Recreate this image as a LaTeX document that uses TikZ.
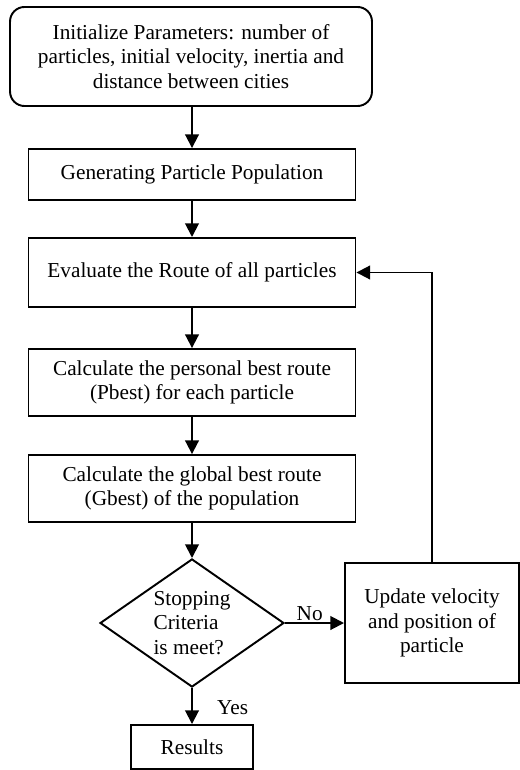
\documentclass[tikz,border=0pt]{standalone}
\usepackage{fontspec}
\setmainfont{Liberation Serif}
\usetikzlibrary{arrows.meta,shapes.geometric}

\tikzset{
  procbox/.style={draw, line width=1.2pt, align=center, inner sep=2pt,
    minimum width=202.7pt},
  decision/.style={draw, line width=1.2pt, diamond, aspect=1.44, inner sep=0pt,
    align=left, minimum width=114pt, minimum height=79.4pt},
  flowarrow/.style={-{Triangle[length=8.5pt,width=8.5pt]}, line width=1.2pt},
  flowlabel/.style={inner sep=1pt}
}

\begin{document}
\begin{tikzpicture}[
  x=0.62pt, y=-0.62pt,
  font=\fontsize{13.2}{15}\selectfont
]
\useasboundingbox (0,0) rectangle (520,770);

% ==================== Main column ====================
\node (init) [procbox, rounded corners=9pt, minimum width=224.4pt,
  minimum height=61.4pt] at (191, 56.5)
  {Initialize Parameters: number of\\particles, initial velocity, inertia and\\distance between cities};

\node (gen) [procbox, minimum height=31.6pt] at (192, 174.5)
  {Generating Particle Population};

\node (eval) [procbox, minimum height=42.8pt] at (192, 272.5)
  {Evaluate the Route of all particles};

\node (pbest) [procbox, minimum height=41.5pt] at (192, 382.5)
  {Calculate the personal best route\\(Pbest) for each particle};

\node (gbest) [procbox, minimum height=41.5pt] at (192, 488.5)
  {Calculate the global best route\\(Gbest) of the population};

% Decision
\node (stop) [decision] at (192, 623)
  {Stopping\\Criteria\\is meet?};

\node (res) [procbox, minimum width=75.6pt, minimum height=27.3pt] at (192, 747)
  {Results};

% ==================== Loop back ====================
\node (upd) [procbox, minimum width=107.9pt, minimum height=74.4pt] at (432, 623)
  {Update velocity\\and position of\\particle};

% Arrows
\draw[flowarrow] (init.south -| gen.north) -- (gen);
\draw[flowarrow] (gen) -- (eval);
\draw[flowarrow] (eval) -- (pbest);
\draw[flowarrow] (pbest) -- (gbest);
\draw[flowarrow] (gbest) -- (stop);
\draw[flowarrow] (stop) -- node[flowlabel, pos=0.55, right=14pt] {Yes} (res);
\draw[flowarrow] (stop.east) -- node[flowlabel, pos=0.42, above] {No} (upd.west);
\draw[flowarrow] (upd.north) |- (eval.east);

\end{tikzpicture}
\end{document}
